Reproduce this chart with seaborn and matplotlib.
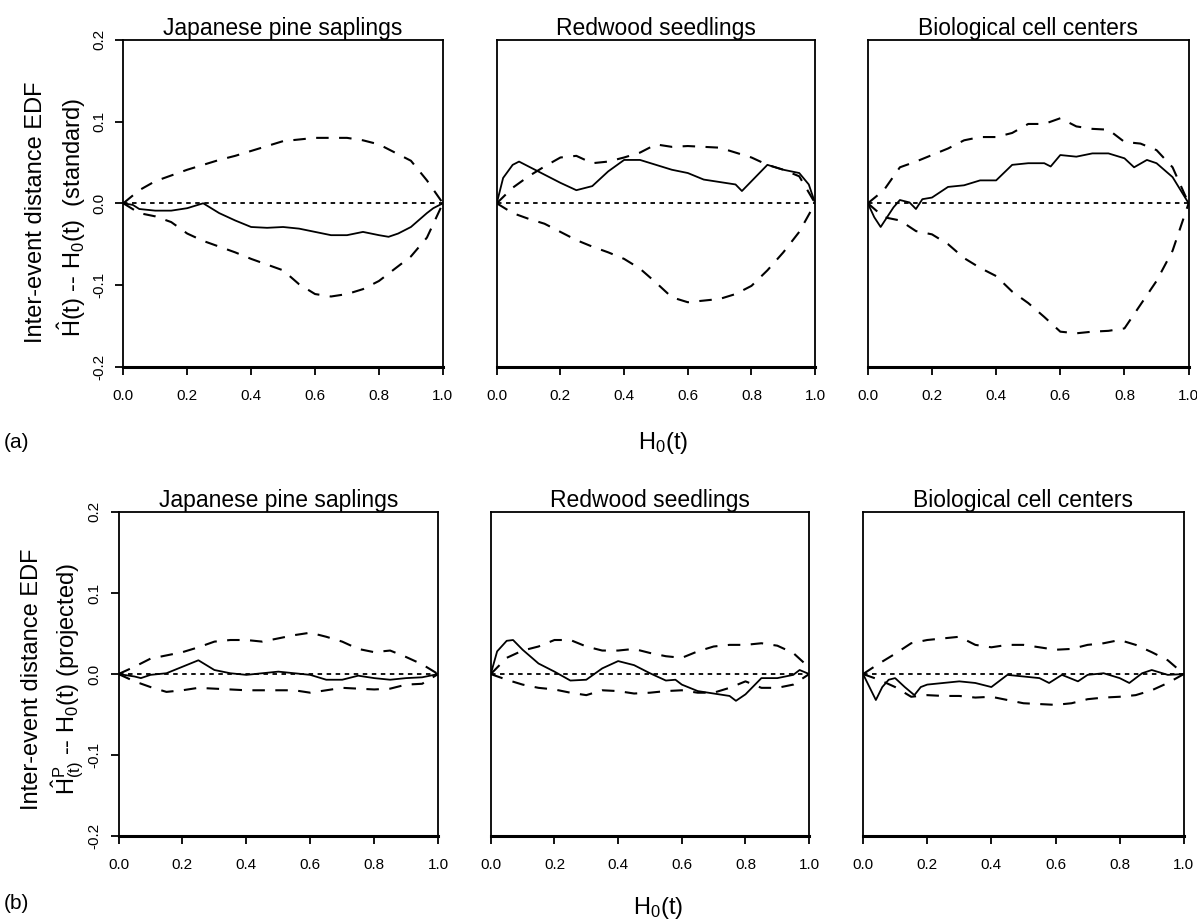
import numpy as np
import pandas as pd
import matplotlib
matplotlib.use("Agg")
import matplotlib.pyplot as plt
import seaborn as sns

sns.set_style("ticks")
plt.rcParams['font.family'] = ['Liberation Sans', 'DejaVu Sans']
plt.rcParams['mathtext.fontset'] = 'custom'
plt.rcParams['mathtext.rm'] = 'Liberation Sans'
plt.rcParams['mathtext.it'] = 'Liberation Sans'
for k in ['text.color', 'axes.labelcolor', 'xtick.color', 'ytick.color', 'axes.edgecolor']:
    plt.rcParams[k] = 'black'

# ---- data ----
titles = ['Japanese pine saplings', 'Redwood seedlings', 'Biological cell centers']

# common grid for the envelopes
env_x = [0.0, 0.05, 0.1, 0.15, 0.2, 0.25, 0.3, 0.35, 0.4, 0.45, 0.5,
         0.55, 0.6, 0.65, 0.7, 0.75, 0.8, 0.85, 0.9, 0.95, 1.0]

# (a) standard
a_pine_up = [0, 0.016, 0.027, 0.034, 0.041, 0.047, 0.053, 0.058, 0.064, 0.070, 0.076,
             0.078, 0.080, 0.080, 0.080, 0.077, 0.072, 0.062, 0.052, 0.028, 0]
a_pine_lo = [0, -0.012, -0.016, -0.023, -0.037, -0.046, -0.053, -0.060, -0.068, -0.075, -0.082,
             -0.099, -0.111, -0.114, -0.111, -0.105, -0.095, -0.080, -0.065, -0.042, 0]
a_pine_obs_x = [0, 0.03, 0.05, 0.1, 0.15, 0.2, 0.25, 0.3, 0.35, 0.4, 0.45, 0.5, 0.55, 0.6,
                0.65, 0.7, 0.75, 0.8, 0.83, 0.86, 0.9, 0.95, 0.97, 1.0]
a_pine_obs_y = [0, -0.002, -0.007, -0.009, -0.009, -0.006, 0.0, -0.012, -0.021, -0.029, -0.030,
                -0.029, -0.031, -0.035, -0.039, -0.039, -0.035, -0.039, -0.041, -0.037, -0.029,
                -0.012, -0.006, 0]

a_red_up = [0, 0.019, 0.033, 0.045, 0.056, 0.058, 0.049, 0.051, 0.056, 0.062, 0.072,
            0.069, 0.070, 0.069, 0.068, 0.062, 0.056, 0.047, 0.041, 0.033, 0]
a_red_lo = [0, -0.012, -0.019, -0.025, -0.035, -0.045, -0.053, -0.060, -0.068, -0.080, -0.097,
            -0.115, -0.121, -0.119, -0.117, -0.111, -0.101, -0.082, -0.060, -0.035, 0]
a_red_obs_x = [0, 0.02, 0.05, 0.07, 0.1, 0.15, 0.2, 0.25, 0.3, 0.35, 0.4, 0.45, 0.5, 0.55,
               0.6, 0.65, 0.7, 0.75, 0.77, 0.8, 0.85, 0.9, 0.95, 0.98, 1.0]
a_red_obs_y = [0, 0.031, 0.047, 0.051, 0.045, 0.035, 0.025, 0.016, 0.021, 0.039, 0.053, 0.053,
               0.047, 0.041, 0.037, 0.029, 0.026, 0.023, 0.015, 0.027, 0.047, 0.041, 0.037,
               0.023, 0]

a_bio_up = [0, 0.016, 0.044, 0.051, 0.059, 0.067, 0.077, 0.081, 0.081, 0.086, 0.097,
            0.097, 0.104, 0.094, 0.091, 0.090, 0.075, 0.073, 0.065, 0.044, 0]
a_bio_lo = [0, -0.017, -0.021, -0.034, -0.038, -0.050, -0.067, -0.079, -0.089, -0.108, -0.122,
            -0.139, -0.157, -0.159, -0.157, -0.156, -0.153, -0.124, -0.095, -0.058, 0]
a_bio_obs_x = [0, 0.02, 0.04, 0.06, 0.08, 0.1, 0.13, 0.15, 0.17, 0.2, 0.25, 0.3, 0.35, 0.4,
               0.45, 0.5, 0.55, 0.57, 0.6, 0.65, 0.7, 0.75, 0.8, 0.83, 0.87, 0.9, 0.95, 1.0]
a_bio_obs_y = [0, -0.017, -0.029, -0.017, -0.005, 0.004, 0.001, -0.007, 0.005, 0.007, 0.020,
               0.022, 0.028, 0.028, 0.047, 0.049, 0.049, 0.045, 0.059, 0.057, 0.061, 0.061,
               0.055, 0.044, 0.053, 0.049, 0.032, 0]

# (b) projected
b_pine_up = [0, 0.009, 0.019, 0.023, 0.027, 0.033, 0.040, 0.042, 0.042, 0.040, 0.044,
             0.048, 0.051, 0.046, 0.040, 0.031, 0.027, 0.029, 0.021, 0.012, 0]
b_pine_lo = [0, -0.009, -0.016, -0.022, -0.020, -0.017, -0.018, -0.019, -0.020, -0.020, -0.020,
             -0.020, -0.023, -0.020, -0.017, -0.018, -0.019, -0.018, -0.013, -0.012, 0]
b_pine_obs_x = [0, 0.05, 0.07, 0.1, 0.15, 0.2, 0.25, 0.3, 0.35, 0.4, 0.45, 0.5, 0.55, 0.6,
                0.65, 0.7, 0.75, 0.8, 0.85, 0.9, 0.95, 1.0]
b_pine_obs_y = [0, -0.003, -0.005, -0.001, 0.001, 0.009, 0.017, 0.005, 0.001, -0.001, 0.001,
                0.003, 0.001, -0.001, -0.007, -0.007, -0.002, -0.005, -0.007, -0.005, -0.004, 0]

b_red_up = [0, 0.020, 0.029, 0.034, 0.042, 0.042, 0.034, 0.029, 0.029, 0.031, 0.026,
            0.022, 0.020, 0.028, 0.034, 0.036, 0.036, 0.038, 0.035, 0.026, 0.008]
b_red_lo = [0, -0.007, -0.013, -0.017, -0.019, -0.023, -0.026, -0.020, -0.021, -0.024, -0.023,
            -0.021, -0.020, -0.023, -0.023, -0.017, -0.009, -0.017, -0.017, -0.013, 0]
b_red_obs_x = [0, 0.02, 0.05, 0.07, 0.1, 0.15, 0.2, 0.25, 0.3, 0.35, 0.4, 0.45, 0.5, 0.55,
               0.58, 0.6, 0.65, 0.7, 0.75, 0.77, 0.8, 0.85, 0.9, 0.95, 0.97, 1.0]
b_red_obs_y = [0, 0.028, 0.041, 0.042, 0.030, 0.013, 0.003, -0.008, -0.007, 0.007, 0.016,
               0.011, 0.001, -0.008, -0.007, -0.013, -0.021, -0.024, -0.027, -0.033, -0.025,
               -0.005, -0.005, -0.001, 0.005, 0]

b_bio_up = [0, 0.013, 0.025, 0.038, 0.042, 0.044, 0.046, 0.036, 0.033, 0.036, 0.036,
            0.033, 0.030, 0.031, 0.036, 0.038, 0.042, 0.036, 0.027, 0.017, 0]
b_bio_lo = [0, -0.007, -0.016, -0.028, -0.026, -0.027, -0.027, -0.029, -0.028, -0.032, -0.036,
            -0.037, -0.038, -0.036, -0.031, -0.029, -0.028, -0.026, -0.020, -0.011, 0]
b_bio_obs_x = [0, 0.02, 0.04, 0.06, 0.08, 0.1, 0.13, 0.16, 0.18, 0.2, 0.25, 0.3, 0.35, 0.4,
               0.45, 0.5, 0.55, 0.58, 0.62, 0.67, 0.7, 0.75, 0.8, 0.83, 0.87, 0.9, 0.95, 1.0]
b_bio_obs_y = [0, -0.016, -0.032, -0.016, -0.007, -0.005, -0.016, -0.026, -0.016, -0.013,
               -0.011, -0.009, -0.011, -0.016, -0.001, -0.003, -0.005, -0.011, -0.001, -0.009,
               -0.001, 0.001, -0.005, -0.011, 0.001, 0.005, -0.001, 0]

rows = [
    [(a_pine_up, a_pine_lo, a_pine_obs_x, a_pine_obs_y),
     (a_red_up, a_red_lo, a_red_obs_x, a_red_obs_y),
     (a_bio_up, a_bio_lo, a_bio_obs_x, a_bio_obs_y)],
    [(b_pine_up, b_pine_lo, b_pine_obs_x, b_pine_obs_y),
     (b_red_up, b_red_lo, b_red_obs_x, b_red_obs_y),
     (b_bio_up, b_bio_lo, b_bio_obs_x, b_bio_obs_y)],
]

xticks = [0.0, 0.2, 0.4, 0.6, 0.8, 1.0]
yticks = [-0.2, -0.1, 0.0, 0.1, 0.2]

# ---- figure ----
fig = plt.figure(figsize=(11.97, 9.24), dpi=100)

row_pos = [(0.603, 0.354, [0.103, 0.415, 0.725]),
           (0.095, 0.351, [0.099, 0.410, 0.721])]
widths = [0.267, 0.266, 0.268]

for r, (bottom, height, lefts) in enumerate(row_pos):
    for c in range(3):
        up, lo, ox, oy = rows[r][c]
        ax = fig.add_axes([lefts[c], bottom, widths[c], height])
        ax.axhline(0, color='black', lw=1.3, linestyle=(0, (2.5, 2.5)))
        sns.lineplot(x=env_x, y=up, ax=ax, color='black', lw=1.5,
                     linestyle=(0, (6, 5)), estimator=None)
        sns.lineplot(x=env_x, y=lo, ax=ax, color='black', lw=1.5,
                     linestyle=(0, (6, 5)), estimator=None)
        sns.lineplot(x=ox, y=oy, ax=ax, color='black', lw=1.3, estimator=None)
        ax.set_xlim(0, 1)
        ax.set_ylim(-0.2, 0.2)
        ax.set_xticks(xticks)
        ax.set_xticklabels([f'{t:.1f}' for t in xticks], fontsize=11)
        ax.tick_params(axis='x', direction='out', length=6, width=1.3, pad=10)
        if c == 0:
            ax.set_yticks(yticks)
            ax.set_yticklabels([f'{t:.1f}' for t in yticks], fontsize=11,
                               rotation=90, va='center')
            ax.tick_params(axis='y', direction='out', length=6, width=1.3, pad=6)
        else:
            ax.set_yticks([])
        for s in ax.spines.values():
            s.set_linewidth(1.3)
            s.set_color('black')
        ax.spines['bottom'].set_linewidth(2.2)
        ax.set_title(titles[c], fontsize=16.5, pad=2)

fig.text(0.030, 0.770, 'Inter-event distance EDF', rotation=90,
         fontsize=17, ha='center', va='center')
fig.text(0.060, 0.765, r'$\hat{\mathrm{H}}$(t) -- H$_0$(t)  (standard)', rotation=90,
         fontsize=17, ha='center', va='center')
fig.text(0.027, 0.265, 'Inter-event distance EDF', rotation=90,
         fontsize=17, ha='center', va='center')
fig.text(0.057, 0.265, r'$\hat{\mathrm{H}}^{\mathrm{P}}_{\mathrm{(t)}}$ -- H$_0$(t) (projected)',
         rotation=90, fontsize=17, ha='center', va='center')

fig.text(0.554, 0.521, r'H$_0$(t)', fontsize=17, ha='center', va='center')
fig.text(0.550, 0.017, r'H$_0$(t)', fontsize=17, ha='center', va='center')
fig.text(0.003, 0.521, '(a)', fontsize=15, ha='left', va='center')
fig.text(0.003, 0.022, '(b)', fontsize=15, ha='left', va='center')

fig.savefig('out.png', dpi=100)
